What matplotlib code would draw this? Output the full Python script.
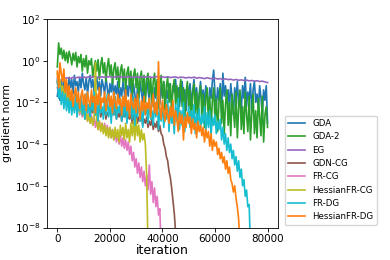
import numpy as np
import matplotlib
matplotlib.use("Agg")
import matplotlib.pyplot as plt

labels = ["GDA", "GDA-2", "EG", "GDN-CG", "FR-CG", "HessianFR-CG", "FR-DG", "HessianFR-DG"]
colors = ["C0", "C2", "C4", "C5", "C6", "C8", "C9", "C1"]

# log10(gradient norm), every 500 iterations (EG every 1000)
gda = [-1.7,-1.2,-1.9,-0.9,-1.5,-1.0,-1.8,-1.1,-1.4,-0.8,
       -1.3,-0.9,-1.6,-0.7,-1.2,-1.0,-1.5,-0.8,-1.3,-0.6,
       -1.1,-1.4,-0.8,-1.6,-1.0,-0.7,-1.3,-0.9,-1.5,-1.1,
       -0.8,-1.4,-1.0,-1.7,-0.9,-1.2,-1.6,-0.8,-1.3,-1.9,
       -1.1,-1.5,-0.9,-1.8,-1.2,-1.6,-1.0,-2.0,-1.3,-1.7,
       -1.0,-1.5,-2.1,-1.2,-1.7,-0.9,-1.4,-1.9,-1.1,-1.6,
       -2.2,-1.3,-1.8,-1.0,-1.5,-2.0,-1.2,-1.7,-0.9,-1.4,
       -1.9,-1.1,-1.6,-2.2,-1.3,-1.8,-1.0,-1.5,-2.1,-1.2,
       -1.7,-1.0,-2.3,-1.4,-1.8,-1.1,-1.6,-2.0,-1.2,-1.5,
       -0.9,-1.8,-1.3,-2.2,-1.5,-1.0,-1.9,-1.4,-2.4,-1.2,
       -1.7,-1.1,-2.0,-1.5,-0.9,-1.8,-1.3,-2.3,-1.6,-1.0,
       -1.9,-1.4,-2.1,-1.2,-1.7,-2.4,-1.3,-1.8,-1.0,-0.45,
       -1.6,-2.2,-1.3,-1.9,-1.1,-2.5,-0.6,-1.7,-1.2,-2.0,
       -1.4,-2.3,-1.1,-1.8,-2.6,-1.3,-1.9,-1.0,-2.1,-1.5,
       -2.4,-1.2,-1.8,-0.8,-2.2,-1.5,-1.9,-1.1,-2.5,-1.4,
       -1.0,-2.0,-1.6,-2.3,-1.2,-1.8,-2.6,-1.4,-1.9,-1.2,
       -3.0]
gda2 = [-0.3,0.85,0.3,0.6,0.1,0.5,0.0,0.4,-0.1,0.45,
        0.2,-0.2,0.35,0.0,0.4,-0.3,0.2,-0.1,0.3,-0.5,
        0.1,-0.3,0.25,-0.6,0.0,-0.2,0.1,-0.8,-0.3,0.0,
        -0.5,0.05,-0.9,-0.2,0.15,-0.6,-0.1,-1.0,-0.3,0.1,
        -0.7,-0.2,-1.1,-0.4,-0.1,-0.9,-0.3,-1.3,-0.5,-0.2,
        -1.0,-0.4,-1.4,-0.6,-0.3,-1.2,-0.5,-1.6,-0.7,-0.4,
        -1.3,-0.6,-1.8,-0.8,-0.5,-1.5,-0.7,-2.0,-0.9,-0.6,
        -1.6,-0.8,-2.1,-1.0,-0.6,-1.7,-0.9,-2.3,-1.1,-0.7,
        -1.8,-1.0,-2.4,-1.2,-0.8,-2.0,-1.1,-2.5,-1.3,-0.9,
        -2.1,-1.2,-2.7,-1.4,-0.9,-2.2,-1.3,-2.8,-1.5,-1.0,
        -2.3,-1.4,-3.0,-1.6,-1.1,-2.5,-1.5,-3.1,-1.7,-1.2,
        -2.6,-1.6,-3.2,-1.8,-1.3,-2.8,-1.7,-3.3,-1.9,-1.3,
        -2.9,-1.8,-3.4,-2.0,-1.3,-3.0,-1.9,-3.5,-2.1,-1.4,
        -3.1,-2.0,-3.6,-1.6,-2.4,-3.2,-1.5,-3.7,-2.3,-1.4,
        -3.3,-2.2,-3.5,-1.5,-2.6,-3.4,-1.7,-3.8,-2.5,-1.6,
        -3.5,-2.4,-3.7,-1.8,-2.7,-3.6,-1.7,-3.9,-2.6,-2.2,
        -3.2]
eg = [-1.3,-1.0,-0.88,-0.84,-0.82,-0.85,-0.8,-0.83,-0.79,-0.81,
      -0.78,-0.82,-0.77,-0.8,-0.76,-0.79,-0.81,-0.77,-0.8,-0.78,
      -0.76,-0.8,-0.78,-0.75,-0.79,-0.77,-0.8,-0.76,-0.78,-0.81,
      -0.77,-0.79,-0.76,-0.8,-0.78,-0.77,-0.81,-0.78,-0.76,-0.8,
      -0.78,-0.8,-0.77,-0.81,-0.79,-0.78,-0.82,-0.79,-0.8,-0.83,
      -0.8,-0.82,-0.79,-0.84,-0.81,-0.83,-0.86,-0.82,-0.85,-0.87,
      -0.84,-0.88,-0.86,-0.9,-0.87,-0.91,-0.89,-0.93,-0.9,-0.94,
      -0.92,-0.95,-0.93,-0.97,-0.95,-0.98,-0.96,-1.0,-0.98,-1.02,
      -1.05]
gdn_cg = [-1.0,-1.5,-1.2,-1.7,-1.4,-1.9,-1.6,-2.0,-1.7,-2.1,
          -1.8,-2.2,-1.9,-2.3,-2.0,-2.2,-1.9,-2.4,-2.1,-2.3,
          -2.0,-2.5,-2.2,-2.4,-2.1,-2.6,-2.3,-2.5,-2.2,-2.6,
          -2.3,-2.5,-2.2,-2.7,-2.4,-2.6,-2.3,-2.8,-2.5,-2.6,
          -2.3,-2.7,-2.4,-2.6,-2.2,-2.8,-2.5,-2.7,-2.4,-2.9,
          -2.5,-2.7,-2.4,-2.9,-2.6,-2.8,-2.5,-3.0,-2.6,-2.9,
          -2.6,-3.0,-2.7,-2.9,-2.6,-3.1,-2.8,-3.0,-2.7,-3.2,
          -2.9,-3.1,-2.8,-3.3,-3.0,-3.2,-2.9,-3.4,-3.1,-3.5,
          -3.6,-4.0,-4.2,-4.6,-4.8,-5.3,-5.6,-6.1,-6.7,-7.3,
          -8.2,-9.5]
fr_cg = [-0.8,-1.4,-1.1,-1.7,-1.3,-1.9,-1.5,-2.0,-1.6,-2.2,
         -1.7,-2.3,-1.9,-2.4,-2.0,-2.5,-2.1,-2.6,-2.2,-2.7,
         -2.3,-2.8,-2.4,-2.9,-2.5,-3.0,-2.6,-3.1,-2.7,-3.2,
         -2.8,-3.3,-2.9,-3.3,-3.0,-3.4,-3.0,-3.5,-3.1,-3.6,
         -3.2,-3.7,-3.3,-3.8,-3.4,-3.9,-3.5,-4.0,-3.6,-4.1,
         -3.7,-4.2,-3.8,-4.3,-3.9,-4.5,-4.1,-4.8,-4.4,-5.1,
         -4.7,-5.4,-4.9,-5.6,-5.1,-5.8,-5.3,-6.0,-5.5,-6.2,
         -5.0,-6.4,-5.8,-6.8,-6.1,-7.0,-6.5,-7.4,-7.1,-9.0]
hfr_cg = [-0.6,-1.2,-0.9,-1.5,-1.2,-1.7,-1.4,-1.9,-1.5,-2.0,
          -1.6,-2.1,-1.8,-2.3,-1.9,-2.4,-2.0,-2.5,-2.2,-2.6,
          -2.3,-2.8,-2.4,-2.9,-2.6,-3.0,-2.7,-3.1,-2.8,-0.1,
          -3.0,-3.3,-2.9,-3.4,-3.0,-3.5,-3.1,-3.6,-3.2,-3.7,
          -3.2,-3.7,-3.3,-3.8,-3.2,-3.7,-3.3,-3.9,-3.1,-3.6,
          -3.2,-3.8,-3.0,-3.7,-3.3,-3.9,-3.0,-3.6,-2.9,-3.8,
          -2.8,-3.6,-3.1,-3.9,-3.3,-3.8,-3.5,-4.0,-5.5,-9.0]
fr_dg = [-0.9,-1.8,-1.3,-2.1,-1.5,-2.3,-1.6,-2.4,-1.8,-2.5,
         -1.7,-2.6,-1.9,-2.5,-1.6,-2.7,-2.0,-2.4,-1.7,-2.6,
         -1.9,-2.8,-1.6,-2.5,-2.1,-2.7,-1.8,-2.4,-1.5,-2.6,
         -2.0,-2.9,-1.7,-2.5,-2.2,-2.8,-1.8,-2.6,-1.6,-2.7,
         -2.1,-3.0,-1.9,-2.6,-1.7,-2.8,-2.2,-2.5,-1.8,-2.9,
         -2.0,-2.7,-1.6,-3.0,-2.2,-2.6,-1.9,-2.8,-1.7,-3.1,
         -2.1,-2.7,-1.8,-2.9,-2.3,-3.2,-1.9,-2.6,-2.2,-3.0,
         -1.8,-2.8,-2.4,-3.1,-2.0,-2.7,-1.7,-3.3,-2.3,-2.9,
         -2.0,-3.2,-2.5,-2.8,-1.9,-3.4,-2.2,-3.0,-2.6,-3.5,
         -2.1,-2.9,-1.8,-3.3,-2.4,-3.1,-2.0,-3.4,-2.6,-2.8,
         -2.2,-3.2,-2.4,-3.0,-2.1,-3.5,-2.5,-3.1,-2.3,-3.3,
         -2.6,-3.0,-2.2,-3.4,-2.5,-3.2,-2.4,-3.6,-2.7,-3.1,
         -2.6,-3.5,-2.9,-3.3,-2.8,-3.8,-3.2,-4.0,-3.5,-4.3,
         -3.7,-4.4,-4.0,-4.7,-4.3,-5.0,-4.6,-5.3,-4.8,-5.6,
         -5.2,-6.0,-5.7,-6.5,-6.2,-7.0,-6.9,-9.0]
hfr_dg = [-0.5,-1.3,-0.1,-0.6,-1.0,-0.4,-1.5,-0.9,-1.7,-1.2,
          -1.9,-1.4,-2.2,-1.6,-1.3,-2.0,-1.5,-2.3,-1.7,-1.4,
          -2.1,-1.6,-2.4,-1.5,-1.9,-2.2,-1.4,-2.0,-1.7,-2.5,
          -1.6,-2.1,-1.3,-2.3,-1.8,-2.0,-1.5,-2.4,-1.9,-1.6,
          -2.2,-1.7,-2.5,-1.5,-2.0,-2.3,-1.6,-2.1,-1.8,-2.6,
          -1.7,-2.2,-1.4,-2.4,-1.9,-2.7,-1.6,-2.1,-2.3,-1.8,
          -2.5,-1.6,-2.2,-2.8,-1.9,-2.4,-1.7,-2.6,-2.0,-2.3,
          -1.8,-2.7,-2.1,-1.6,-2.5,-2.0,-2.6,-0.05,-2.2,-2.8,
          -1.9,-2.4,-2.9,-2.1,-2.6,-3.0,-2.2,-2.7,-1.9,-3.1,
          -2.4,-2.8,-3.4,-2.5,-3.0,-2.6,-3.8,-2.7,-3.2,-2.5,
          -3.0,-2.7,-3.5,-2.8,-3.3,-3.0,-3.7,-2.9,-3.4,-3.1,
          -3.6,-3.2,-3.9,-3.3,-3.7,-3.4,-4.1,-3.5,-4.3,-3.8,
          -4.1,-3.9,-4.5,-4.2,-4.7,-4.4,-4.9,-4.6,-5.2,-4.8,
          -5.4,-5.1,-5.7,-5.9,-6.3,-6.0,-6.6,-7.0,-7.6,-9.0]

series = [gda, gda2, eg, gdn_cg, fr_cg, hfr_cg, fr_dg, hfr_dg]
steps = [500, 500, 1000, 500, 500, 500, 500, 500]

plt.rcParams['font.family'] = ['DejaVu Sans']
fig = plt.figure(figsize=(3.9, 2.6), dpi=100)
ax = fig.add_axes([0.12, 0.125, 0.593, 0.802])

for ys, st, lab, col in zip(series, steps, labels, colors):
    ys = np.array(ys)
    xs = np.arange(len(ys)) * st
    ax.plot(xs, 10.0 ** ys, color=col, lw=1.2, label=lab)

ax.set_yscale('log')
ax.set_ylim(1e-8, 1e2)
ax.set_xlim(-4000, 84000)
ax.set_yticks([1e-8, 1e-6, 1e-4, 1e-2, 1e0, 1e2])
ax.minorticks_off()
ax.set_xticks([0, 20000, 40000, 60000, 80000])
ax.tick_params(labelsize=7.5, length=2.7, width=0.6, pad=2)
for s in ax.spines.values():
    s.set_linewidth(0.6)
ax.set_xlabel('iteration', fontsize=9, labelpad=0)
ax.set_ylabel('gradient norm', fontsize=7.8, labelpad=2)

ax.legend(loc='center left', bbox_to_anchor=(1.01, 0.275), fontsize=6.2,
          handlelength=2.0, frameon=True, borderpad=0.4, labelspacing=0.5)

fig.savefig('out.png', dpi=100)
